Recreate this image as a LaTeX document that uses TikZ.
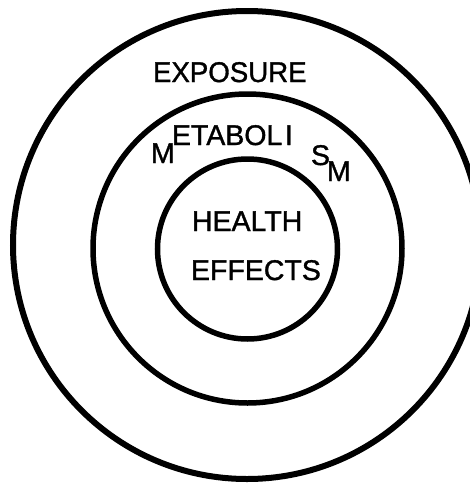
\documentclass[tikz,border=0pt]{standalone}
\usepackage{fontspec}
\setmainfont{Liberation Sans}[FakeBold=1.2]
\tikzset{
  ring/.style={draw=black, line width=5.5pt},
  lbl/.style={inner sep=0pt, outer sep=0pt, anchor=base west, font=\fontsize{28.5}{30}\selectfont},
}
\begin{document}
\begin{tikzpicture}[x=1pt, y=-1pt]
  \useasboundingbox (0,0) rectangle (470,483);
  \clip (0,0) rectangle (470,483);
  \fill[white] (0,0) rectangle (470,483);
  \coordinate (c1) at (247,245);
  \coordinate (c2) at (247.5,248.5);
  \coordinate (c3) at (247.5,249);
  \draw[ring, line width=6pt] (c1) circle (234);
  \draw[ring] (c2) circle (154.5);
  \draw[ring] (c3) circle (90);
  \node[lbl, xscale=0.97] (exposure) at (153,82) {EXPOSURE};
  \node[lbl] (m1) at (151,163) {M};
  \node[lbl] (etabol) at (172,145) {ETABOL};
  \node[lbl] (i) at (285,145) {I};
  \node[lbl] (s) at (311,165) {S};
  \node[lbl] (m2) at (327,181) {M};
  \node[lbl] (health) at (192,231) {HEALTH};
  \node[lbl] (effects) at (191,280) {EFFECTS};
\end{tikzpicture}
\end{document}
